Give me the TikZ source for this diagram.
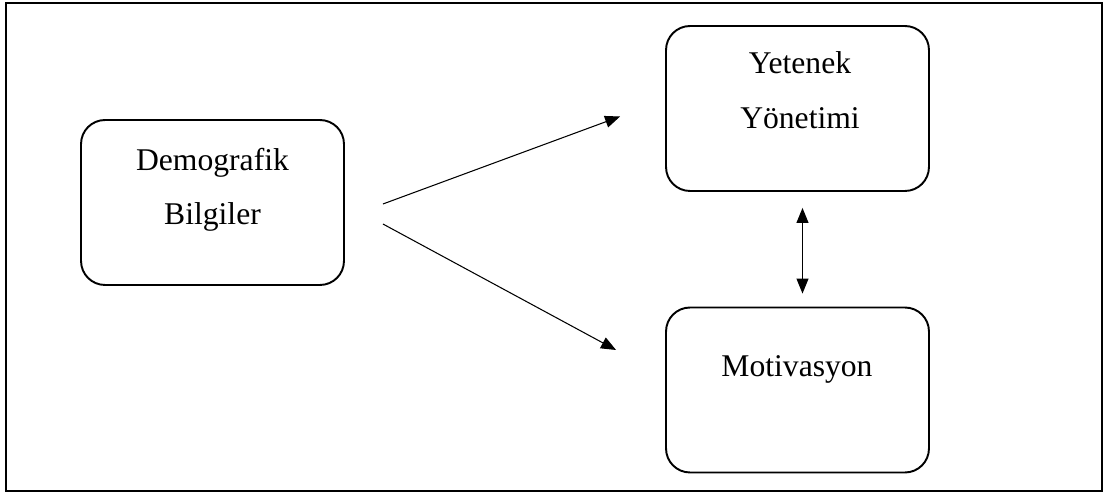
\documentclass[tikz,border=0pt]{standalone}
\usepackage{fontspec}
\setmainfont{Liberation Serif}
\usetikzlibrary{arrows.meta,positioning}

\tikzset{
  kutu/.style = {draw, line width=1.1pt, rounded corners=0.48cm, minimum width=5.26cm, minimum height=3.3cm, inner sep=0pt},
  yazi/.style = {font=\fontsize{18}{18}\selectfont, inner sep=0pt, anchor=base},
  ok/.style = {line width=0.6pt, -{Triangle[length=0.3cm, width=0.24cm]}},
  cift/.style = {line width=0.6pt, {Triangle[length=0.3cm, width=0.24cm]}-{Triangle[length=0.3cm, width=0.24cm]}}
}

\begin{document}
\begin{tikzpicture} [x = 0.02cm, y = -0.02cm]
      \useasboundingbox (0,0) rectangle (1107,493);

      % cerceve
      \draw [line width=0.85pt](6,3) rectangle (1102,491);

      % kutular
      \node [kutu] (dem) at (212.5,202.5) {};
      \node [kutu] (yet) at (797.5,108.5) {};
      \node [kutu] (mot) at (797.5,390) {};

      % yazilar
      \node [yazi] (dem1) at (212.5,171) {Demografik};
      \node [yazi] (dem2) at (212.5,225) {Bilgiler};
      \node [yazi] (yet1) at (800,74) {Yetenek};
      \node [yazi] (yet2) at (800,129) {Yönetimi};
      \node [yazi] (mot1) at (797,377) {Motivasyon};

      % oklar
      \draw [ok]([xshift=0.76cm, yshift=-0.03cm]dem.east) -- ([xshift=-0.9cm, yshift=-0.16cm]yet.west);
      \draw [ok]([xshift=0.76cm, yshift=-0.43cm]dem.east) -- ([xshift=-0.98cm, yshift=0.8cm]mot.west);
      \draw [cift]([xshift=0.1cm, yshift=-0.32cm]yet.south) -- ([xshift=0.1cm, yshift=0.26cm]mot.north);
    \end{tikzpicture}
\end{document}
